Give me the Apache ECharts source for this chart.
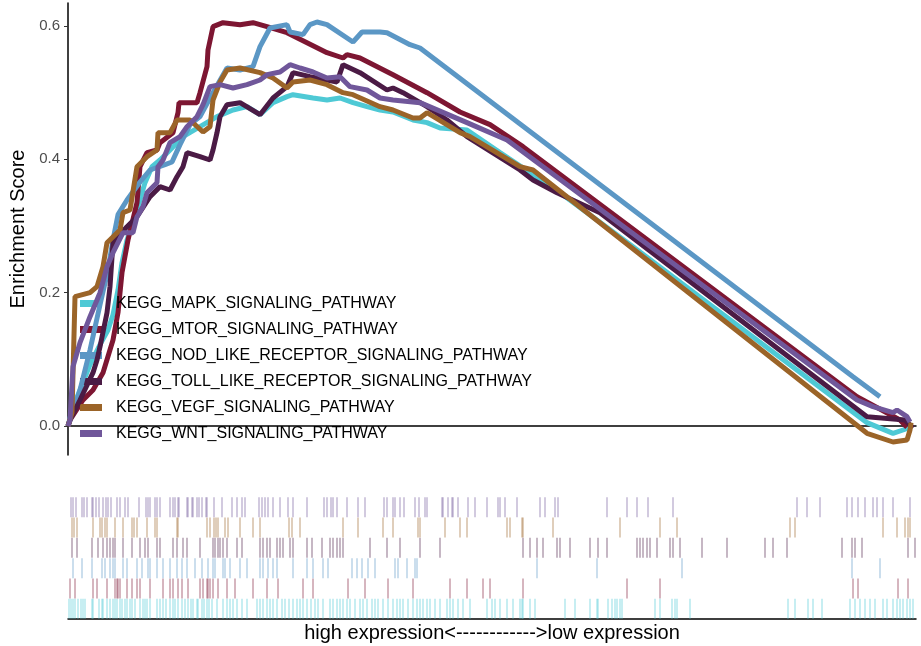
<!DOCTYPE html>
<html>
<head>
<meta charset="utf-8">
<script src="https://cdn.jsdelivr.net/npm/echarts@6/dist/echarts.min.js"></script>
<style>
  html, body { margin: 0; padding: 0; background: #fff; }
  #chart { width: 921px; height: 646px; }
</style>
</head>
<body>
<div id="chart"></div>
<script>
  // gene rank positions run 0..848
  const rankMax = 848
  const pathways = [
    'KEGG_MAPK_SIGNALING_PATHWAY',
    'KEGG_MTOR_SIGNALING_PATHWAY',
    'KEGG_NOD_LIKE_RECEPTOR_SIGNALING_PATHWAY',
    'KEGG_TOLL_LIKE_RECEPTOR_SIGNALING_PATHWAY',
    'KEGG_VEGF_SIGNALING_PATHWAY',
    'KEGG_WNT_SIGNALING_PATHWAY'
  ]
  const colors = ['#4ec9d5', '#7d1632', '#5b97c5', '#4b1b45', '#9b6428', '#70579a']
  const yTicks = [0, 0.2, 0.4, 0.6]

  // running enrichment score [rank, ES]
  const mapkES = [[0,0],[4,0.024],[12,0.054],[22,0.092],[32,0.122],[40,0.144],[45,0.167],[50,0.204],[54,0.245],[59,0.279],[69,0.324],[77,0.365],[84,0.389],[92,0.399],[102,0.414],[115,0.434],[132,0.449],[149,0.464],[165,0.474],[179,0.479],[192,0.467],[205,0.485],[219,0.494],[225,0.497],[245,0.492],[259,0.489],[272,0.492],[285,0.485],[299,0.479],[312,0.474],[325,0.471],[345,0.459],[359,0.455],[372,0.447],[399,0.444],[432,0.410],[492,0.350],[565,0.269],[799,0.005],[825,-0.011],[835,-0.006],[842,-0.002]]
  const mtorES = [[0,0],[2,0.009],[15,0.039],[25,0.054],[35,0.080],[45,0.129],[50,0.170],[54,0.230],[60,0.279],[69,0.335],[72,0.389],[79,0.410],[89,0.414],[92,0.425],[105,0.440],[110,0.470],[111,0.485],[129,0.485],[132,0.500],[139,0.539],[140,0.564],[145,0.599],[155,0.605],[172,0.602],[185,0.605],[199,0.599],[219,0.590],[239,0.575],[259,0.560],[275,0.552],[279,0.557],[292,0.552],[325,0.527],[359,0.500],[392,0.471],[422,0.452],[455,0.419],[789,0.044],[832,0.009],[839,-0.002]]
  const nodES = [[0,0],[4,0.017],[12,0.054],[22,0.114],[32,0.182],[40,0.234],[45,0.279],[50,0.317],[59,0.339],[72,0.366],[82,0.384],[97,0.392],[104,0.396],[112,0.422],[122,0.452],[132,0.464],[145,0.500],[159,0.537],[172,0.534],[185,0.539],[192,0.569],[202,0.597],[219,0.602],[222,0.591],[235,0.587],[242,0.602],[249,0.606],[259,0.602],[285,0.576],[294,0.591],[312,0.591],[319,0.590],[342,0.572],[352,0.567],[785,0.074],[812,0.044]]
  const tollES = [[0,0],[2,0.009],[12,0.039],[25,0.080],[29,0.099],[32,0.119],[39,0.170],[42,0.209],[45,0.275],[59,0.299],[69,0.314],[82,0.344],[92,0.359],[102,0.354],[109,0.374],[115,0.389],[119,0.410],[132,0.404],[142,0.399],[145,0.414],[149,0.440],[152,0.464],[159,0.482],[172,0.485],[192,0.467],[205,0.492],[219,0.509],[225,0.530],[242,0.524],[269,0.516],[275,0.542],[292,0.530],[319,0.504],[325,0.507],[335,0.500],[359,0.479],[379,0.459],[399,0.434],[452,0.384],[465,0.369],[489,0.350],[532,0.320],[799,0.014],[837,0.009],[845,-0.003]]
  const vegfES = [[0,0],[4,0.020],[7,0.194],[22,0.200],[29,0.209],[35,0.239],[39,0.275],[52,0.294],[55,0.320],[62,0.324],[69,0.389],[79,0.404],[89,0.414],[90,0.440],[102,0.440],[109,0.459],[122,0.459],[135,0.441],[142,0.449],[145,0.489],[152,0.516],[159,0.534],[172,0.537],[192,0.530],[205,0.522],[219,0.507],[225,0.516],[242,0.519],[259,0.512],[275,0.500],[285,0.497],[312,0.479],[325,0.474],[345,0.462],[352,0.462],[359,0.470],[392,0.440],[402,0.434],[452,0.389],[465,0.384],[799,-0.011],[825,-0.024],[839,-0.021],[842,-0.006],[843,0.005]]
  const wntES = [[0,0],[2,0.009],[5,0.089],[12,0.125],[22,0.164],[32,0.200],[39,0.239],[45,0.260],[55,0.290],[65,0.290],[69,0.314],[75,0.329],[79,0.350],[89,0.365],[90,0.389],[95,0.399],[102,0.425],[112,0.434],[119,0.449],[129,0.464],[135,0.482],[142,0.509],[152,0.512],[165,0.507],[179,0.512],[192,0.519],[199,0.527],[212,0.531],[222,0.542],[232,0.537],[245,0.531],[259,0.522],[272,0.524],[282,0.509],[299,0.504],[312,0.492],[325,0.489],[352,0.485],[399,0.455],[439,0.429],[789,0.039],[805,0.029],[825,0.020],[829,0.024],[839,0.014],[842,0.006]]

  // gene set hit positions (rug)
  const mapkHits = [1,3,5,7,10,13,15,17,24,25,31,34,35,39,42,45,47,49,52,54,57,59,62,64,67,72,75,77,79,82,89,92,95,98,102,105,107,110,114,117,120,123,125,129,130,134,136,139,141,144,149,155,159,162,165,169,174,179,189,192,195,199,202,205,209,214,217,221,225,229,232,235,239,243,247,250,255,262,265,269,272,275,279,282,287,292,295,299,304,307,310,315,320,325,329,332,335,340,345,349,352,355,359,362,367,372,379,382,385,390,395,402,419,424,427,432,439,445,452,454,455,462,467,497,507,522,529,530,540,544,547,549,552,554,587,592,604,607,609,622,720,727,740,745,754,782,787,792,797,802,807,815,819,825,829,832,835,839,842,845]
  const mtorHits = [2,7,25,29,39,47,49,50,52,59,64,69,72,82,95,102,105,110,114,120,132,135,139,140,142,145,150,159,167,185,199,210,235,245,280,297,320,345,382,399,415,422,455,559,592,785,790,830,840]
  const nodHits = [5,14,24,34,37,42,45,47,55,59,69,74,80,82,89,95,102,109,114,119,127,134,140,145,147,155,157,162,172,179,192,195,200,205,209,225,239,245,255,260,284,289,294,300,307,327,330,339,347,349,469,529,614,784,812]
  const tollHits = [4,9,24,30,35,39,42,45,47,55,64,72,77,80,89,92,105,109,115,119,132,145,147,150,152,155,159,169,174,192,195,199,202,209,212,215,222,225,239,244,254,262,265,269,272,275,302,319,332,352,372,455,462,469,475,489,492,502,522,530,539,569,572,575,579,582,589,602,605,612,634,659,697,705,719,774,784,787,794,840,847]
  const vegfHits = [4,6,9,25,32,34,37,39,47,55,64,66,69,79,87,89,109,110,139,142,146,148,150,157,160,172,185,192,221,224,232,275,290,315,325,350,352,377,392,399,439,442,454,455,485,552,592,609,722,727,815,829,837,840,842]
  const wntHits = [3,5,8,14,16,19,24,25,28,31,35,38,40,43,49,52,57,60,71,78,80,82,87,89,92,102,105,107,110,111,119,120,124,125,129,131,134,138,139,146,154,164,169,174,177,191,194,197,200,205,212,220,225,239,256,259,263,265,269,279,290,297,316,319,325,327,332,336,347,351,357,359,374,375,380,384,385,390,400,407,419,430,432,437,449,472,477,487,490,539,559,569,580,605,729,739,752,779,784,790,797,805,809,815,825,842]

  const curves = [mapkES, mtorES, nodES, tollES, vegfES, wntES]
  const hits = [mapkHits, mtorHits, nodHits, tollHits, vegfHits, wntHits]

  const chart = echarts.init(document.getElementById('chart'))

  const series = []
  curves.forEach((data, i) => {
    series.push({
      name: pathways[i],
      type: 'line',
      xAxisIndex: 0,
      yAxisIndex: 0,
      data: data,
      symbol: 'none',
      lineStyle: { width: 5, color: colors[i] },
      itemStyle: { color: colors[i] },
      z: 2 + i
    })
  })
  // rug rows: MAPK at the bottom, WNT on top
  hits.forEach((list, i) => {
    series.push({
      name: pathways[i] + '_hits',
      type: 'scatter',
      xAxisIndex: 1,
      yAxisIndex: 1,
      data: list.map(r => [r, i + 0.5]),
      symbol: 'rect',
      symbolSize: [1.4, 20],
      itemStyle: { color: colors[i], opacity: 0.45 },
      silent: true
    })
  })

  const options = {
    animation: false,
    textStyle: { fontFamily: 'Liberation Sans, Arial, sans-serif' },
    legend: {
      data: pathways,
      orient: 'vertical',
      left: 80,
      top: 295,
      padding: 0,
      itemWidth: 22,
      itemHeight: 7,
      itemGap: 9,
      icon: 'rect',
      textStyle: {
        fontSize: 16,
        lineHeight: 17,
        color: '#000',
        padding: [0, 0, 0, 9]
      }
    },
    grid: [
      { left: 68, right: 5, top: 3, bottom: 646 - 455, outerBoundsMode: 'none' },
      { left: 68, right: 5, top: 497, bottom: 646 - 619, outerBoundsMode: 'none' }
    ],
    xAxis: [{
      type: 'value',
      gridIndex: 0,
      min: 0,
      max: rankMax,
      axisLine: { show: true, onZero: true, lineStyle: { color: '#000', width: 1.5 } },
      axisTick: { show: false },
      axisLabel: { show: false },
      splitLine: { show: false }
    }, {
      type: 'value',
      gridIndex: 1,
      min: 0,
      max: rankMax,
      name: 'high expression<------------>low expression',
      nameLocation: 'middle',
      nameGap: 4,
      nameTextStyle: { fontSize: 20, color: '#000' },
      axisLine: { show: true, lineStyle: { color: '#000', width: 1.5 } },
      axisTick: { show: false },
      axisLabel: { show: false },
      splitLine: { show: false }
    }],
    yAxis: [{
      type: 'value',
      gridIndex: 0,
      min: -0.0435,
      max: 0.6345,
      name: 'Enrichment Score',
      nameLocation: 'middle',
      nameGap: 37,
      nameTextStyle: { fontSize: 20, color: '#000' },
      axisLine: { show: true, lineStyle: { color: '#000', width: 1.5 } },
      axisTick: { show: true, length: 4, customValues: yTicks, lineStyle: { color: '#333' } },
      axisLabel: {
        customValues: yTicks,
        fontSize: 15,
        color: '#4d4d4d',
        margin: 8,
        formatter: v => v.toFixed(1)
      },
      splitLine: { show: false }
    }, {
      type: 'value',
      gridIndex: 1,
      min: 0,
      max: 6,
      show: false
    }],
    series: series
  }
  chart.setOption(options)
</script>
</body>
</html>
